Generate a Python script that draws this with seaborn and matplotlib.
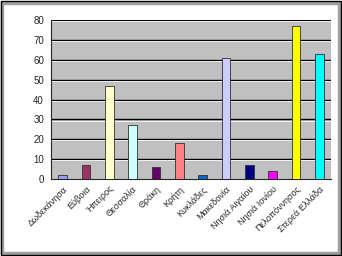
import matplotlib
matplotlib.use("Agg")
import matplotlib.pyplot as plt
import seaborn as sns
import pandas as pd
import numpy as np
from matplotlib.patches import Rectangle

regions = ["Δωδεκάνησα", "Εύβοια", "Ήπειρος", "Θεσσαλία", "Θράκη", "Κρήτη",
           "Κυκλάδες", "Μακεδονία", "Νησιά Αιγαίου", "Νησιά Ιονίου",
           "Πελοπόννησος", "Στερεά Ελλάδα"]
values = [2, 7, 47, 27, 6, 18, 2, 61, 7, 4, 77, 63]
colors = ["#9999FF", "#993366", "#FFFFCC", "#CCFFFF", "#660066", "#FF8080",
          "#0066CC", "#CCCCFF", "#000080", "#FF00FF", "#FFFF00", "#00FFFF"]

df = pd.DataFrame({"region": regions, "value": values})

sns.set_style("white")
plt.rcParams["font.family"] = ["Liberation Sans", "DejaVu Sans"]

fig = plt.figure(figsize=(3.42, 2.56), dpi=100)
ax = fig.add_axes([51 / 342, 1 - 179 / 256, 280 / 342, 159 / 256])
ax.set_facecolor("#C0C0C0")

sns.barplot(data=df, x="region", y="value", hue="region", palette=colors,
            saturation=1, width=0.37, edgecolor="#303030", linewidth=0.6,
            legend=False, ax=ax, zorder=3)

ax.set_ylim(0, 80)
ax.set_xlim(-0.5, len(regions) - 0.5)
ax.set_yticks(range(0, 81, 10))
for y in range(10, 81, 10):
    ax.axhline(y, color="black", lw=1.0, zorder=1)
    ax.axhline(y - 0.6, color="white", lw=0.6, zorder=1)

ax.set_xlabel("")
ax.set_ylabel("")
ax.set_xticks(range(len(regions)))
ax.set_xticklabels(regions, rotation=45, ha="right", rotation_mode="anchor",
                   fontsize=6.5)
ax.tick_params(axis="x", which="major", length=0, pad=4)
ax.set_xticks(np.arange(-0.5, len(regions), 1), minor=True)
ax.tick_params(axis="x", which="minor", length=3, width=0.8, direction="out")
ax.tick_params(axis="y", labelsize=7, length=3, width=0.8, direction="out", pad=2)

for side in ["top", "right"]:
    ax.spines[side].set_visible(False)
ax.spines["left"].set_linewidth(0.8)
ax.spines["bottom"].set_linewidth(0.8)

# frame around the chart
fig.patches.append(Rectangle((0.006, 0.01), 0.985, 0.98, transform=fig.transFigure,
                             fill=False, edgecolor="#A0A0A0", lw=2.5))
fig.patches.append(Rectangle((0.0015, 0.002), 0.997, 0.996, transform=fig.transFigure,
                             fill=False, edgecolor="black", lw=1))

fig.savefig("out.png", dpi=100)
